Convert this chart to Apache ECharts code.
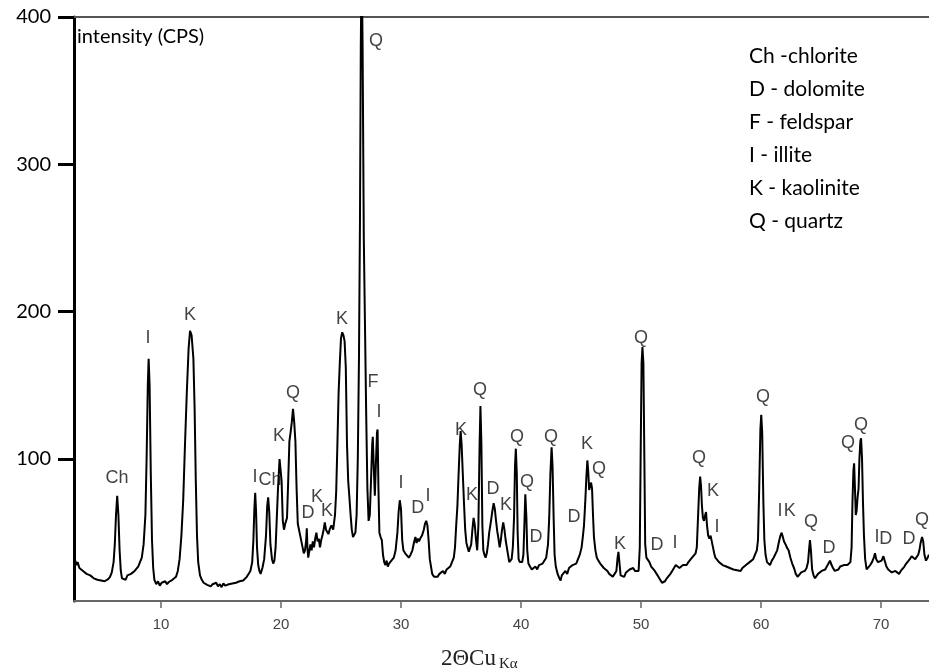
<!DOCTYPE html>
<html>
<head>
<meta charset="utf-8">
<title>XRD pattern</title>
<script src="https://cdn.jsdelivr.net/npm/echarts@6/dist/echarts.min.js"></script>
<style>
  html, body { margin: 0; padding: 0; background: #fff; }
  #chart { width: 929px; height: 669px; }
</style>
</head>
<body>
<div id="chart"></div>
<script>
// diffractogram: [2theta, counts]
const pattern = [
  [2.75,27],[2.85,31],[2.95,28],[3.05,30],[3.2,26],[3.35,27],[3.5,24],[3.65,25],[3.8,22],[3.95,23],
  [4.1,21],[4.25,22],[4.4,19],[4.55,20],[4.7,18],[4.85,19],[5.0,17.5],[5.15,18.5],[5.3,17],[5.45,18],
  [5.6,18.5],[5.75,20],[5.9,23],[6.05,30],[6.15,42],[6.25,62],[6.35,75],[6.45,62],[6.55,38],[6.65,24],
  [6.75,19],[6.9,20],[7.05,18],[7.2,21],[7.35,20],[7.5,22],[7.65,21],[7.8,24],[7.95,25],[8.1,27],
  [8.25,30],[8.4,33],[8.55,42],[8.7,62],[8.8,100],[8.9,150],[8.97,168],[9.05,150],[9.15,90],[9.25,45],
  [9.35,26],[9.45,18],[9.6,15],[9.75,17],[9.9,14],[10.05,16],[10.2,15],[10.35,17],[10.5,15],[10.65,16.5],
  [10.8,17],[10.95,18],[11.1,19],[11.25,20],[11.4,24],[11.55,32],[11.7,48],[11.85,72],[12.0,110],[12.15,145],
  [12.3,175],[12.42,187],[12.55,184],[12.7,168],[12.8,135],[12.9,85],[13.0,48],[13.1,30],[13.25,21],[13.4,18],
  [13.55,16],[13.7,17],[13.85,14.5],[14.0,15.5],[14.15,13.5],[14.3,15],[14.45,14],[14.6,16],[14.75,13.5],[14.9,15],
  [15.05,13],[15.2,15.5],[15.35,14],[15.5,13.5],[15.65,15],[15.8,14],[15.95,15.5],[16.1,14.5],[16.25,16],[16.4,15],
  [16.55,17],[16.7,16],[16.85,17.5],[17.0,18],[17.15,20],[17.3,21],[17.45,24],[17.6,30],[17.7,45],[17.78,66],
  [17.85,77],[17.92,65],[18.0,40],[18.1,28],[18.2,24],[18.3,22],[18.45,26],[18.6,32],[18.75,48],[18.85,68],
  [18.93,74],[19.02,64],[19.12,42],[19.25,32],[19.35,29],[19.45,31],[19.55,40],[19.65,60],[19.75,80],[19.88,100],
  [19.97,101],[20.05,85],[20.15,58],[20.25,52],[20.35,56],[20.5,60],[20.6,85],[20.7,112],[20.8,118],[20.9,125],
  [21.0,134],[21.1,125],[21.2,112],[21.3,80],[21.4,56],[21.5,52],[21.6,48],[21.7,47],[21.8,40],[21.9,36],
  [22.0,38],[22.1,45],[22.15,53],[22.2,40],[22.27,33],[22.35,37],[22.45,42],[22.55,38],[22.65,44],[22.75,40],
  [22.85,46],[22.95,50],[23.05,44],[23.15,46],[23.25,40],[23.35,45],[23.45,48],[23.55,52],[23.65,57],[23.75,52],
  [23.85,53],[23.95,49],[24.05,52],[24.2,55],[24.35,52],[24.5,62],[24.6,78],[24.7,110],[24.8,145],[24.9,165],
  [25.0,182],[25.1,186],[25.2,184],[25.3,180],[25.4,162],[25.5,110],[25.6,85],[25.7,74],[25.8,62],[25.9,52],
  [26.0,47],[26.1,46],[26.2,50],[26.3,62],[26.4,100],[26.5,170],[26.58,260],[26.65,380],[26.72,440],[26.8,380],
  [26.9,250],[27.0,190],[27.1,130],[27.2,80],[27.3,58],[27.4,62],[27.5,85],[27.6,110],[27.65,115],[27.75,90],
  [27.82,75],[27.9,95],[28.0,118],[28.05,120],[28.12,80],[28.2,50],[28.3,47],[28.4,45],[28.5,35],[28.6,30],
  [28.7,28],[28.8,31],[28.9,27],[29.0,29],[29.1,28],[29.2,31],[29.3,30],[29.4,33],[29.55,38],[29.7,50],
  [29.8,64],[29.9,72],[30.0,66],[30.1,45],[30.2,38],[30.35,36],[30.5,37],[30.65,33],[30.8,35],[30.95,38],
  [31.1,44],[31.2,47],[31.3,43],[31.4,46],[31.5,44],[31.6,46],[31.75,48],[31.9,52],[32.0,56],[32.1,58],
  [32.2,55],[32.3,45],[32.4,32],[32.5,27],[32.6,22],[32.75,20],[32.9,21],[33.05,20],[33.2,22],[33.35,21],
  [33.5,24],[33.65,22],[33.8,25],[33.95,24],[34.1,27],[34.25,28],[34.4,33],[34.5,40],[34.6,55],[34.7,68],
  [34.8,90],[34.9,110],[34.97,119],[35.05,110],[35.15,90],[35.25,70],[35.35,52],[35.45,43],[35.55,40],[35.65,37],
  [35.75,36],[35.85,42],[35.95,52],[36.05,60],[36.15,55],[36.25,45],[36.35,38],[36.45,55],[36.55,110],[36.62,136],
  [36.7,110],[36.78,55],[36.86,38],[36.95,35],[37.05,33],[37.15,36],[37.25,42],[37.35,50],[37.5,58],[37.6,64],
  [37.72,70],[37.82,66],[37.92,58],[38.02,51],[38.12,46],[38.22,40],[38.32,45],[38.42,52],[38.52,57],[38.62,52],
  [38.72,45],[38.82,40],[38.92,35],[39.02,30],[39.12,29],[39.22,32],[39.32,40],[39.42,60],[39.5,95],[39.57,107],
  [39.65,90],[39.72,50],[39.8,32],[39.9,30],[40.0,31],[40.1,30],[40.2,35],[40.28,55],[40.36,76],[40.45,60],
  [40.52,38],[40.62,29],[40.75,27],[40.9,25],[41.05,24],[41.2,27],[41.35,25],[41.5,28],[41.65,27],[41.8,29],
  [41.95,30],[42.1,33],[42.25,42],[42.35,60],[42.45,90],[42.55,108],[42.63,95],[42.72,60],[42.8,35],[42.9,27],
  [43.05,22],[43.2,19],[43.3,17.5],[43.4,21],[43.55,20],[43.7,24],[43.85,22],[44.0,26],[44.15,25],[44.3,28],
  [44.45,27],[44.6,29],[44.75,30],[44.9,35],[45.05,40],[45.15,47],[45.25,55],[45.35,70],[45.45,88],[45.53,99],
  [45.6,92],[45.68,79],[45.76,80],[45.84,84],[45.92,80],[46.0,62],[46.08,47],[46.2,38],[46.32,33],[46.45,31],
  [46.6,29],[46.75,28],[46.9,26],[47.05,25],[47.2,24],[47.35,22],[47.5,23],[47.65,20],[47.8,22],[47.95,24],
  [48.05,33],[48.12,37],[48.2,30],[48.3,21],[48.45,22],[48.6,20],[48.75,23],[48.9,22],[49.05,25],[49.2,24],
  [49.35,26],[49.5,24],[49.65,25],[49.8,24],[49.9,40],[49.98,110],[50.05,165],[50.12,176],[50.2,165],[50.28,100],
  [50.35,42],[50.45,33],[50.55,32],[50.7,30],[50.85,27],[51.0,28],[51.15,24],[51.3,22],[51.45,20],[51.6,18],
  [51.75,16],[51.85,15.5],[52.0,17],[52.15,19],[52.3,20],[52.45,22],[52.6,24],[52.75,26],[52.9,28],[53.05,27],
  [53.2,26],[53.35,25],[53.5,28],[53.65,27],[53.8,28],[53.95,30],[54.1,31],[54.25,33],[54.4,34],[54.55,36],
  [54.65,40],[54.75,60],[54.85,80],[54.93,88],[55.0,82],[55.08,68],[55.16,60],[55.25,58],[55.35,62],[55.42,64],
  [55.5,55],[55.6,48],[55.7,46],[55.8,48],[55.9,47],[56.0,40],[56.1,36],[56.2,33],[56.35,32],[56.5,30],
  [56.65,31],[56.8,28],[56.95,29],[57.1,27],[57.25,28],[57.4,26],[57.55,27],[57.7,25],[57.85,26],[58.0,24.5],
  [58.15,25],[58.3,24],[58.45,26],[58.6,27],[58.75,28],[58.9,29],[59.05,30],[59.2,31],[59.35,32],[59.5,35],
  [59.65,38],[59.75,45],[59.85,80],[59.95,120],[60.02,130],[60.1,118],[60.2,70],[60.28,45],[60.38,35],[60.5,30],
  [60.62,29],[60.75,28],[60.9,31],[61.05,33],[61.2,34],[61.35,38],[61.5,44],[61.62,48],[61.72,50],[61.82,47],
  [61.92,44],[62.05,42],[62.15,40],[62.3,38],[62.45,33],[62.6,29],[62.75,26],[62.9,22],[63.05,20],[63.2,21],
  [63.35,23],[63.5,22],[63.65,24],[63.8,26],[63.92,30],[64.0,38],[64.08,45],[64.16,38],[64.26,25],[64.38,21],
  [64.5,19],[64.62,20],[64.75,22],[64.9,21],[65.05,24],[65.2,23],[65.35,25],[65.5,26],[65.62,29],[65.75,31],
  [65.88,28],[66.0,26],[66.15,24],[66.3,23],[66.45,25],[66.6,27],[66.75,26],[66.9,28],[67.05,27],[67.2,28],
  [67.35,29],[67.45,30],[67.55,40],[67.62,70],[67.7,92],[67.76,97],[67.83,80],[67.9,62],[67.97,65],[68.05,74],
  [68.13,80],[68.2,100],[68.28,112],[68.34,114],[68.42,100],[68.5,70],[68.58,48],[68.68,32],[68.8,25],[68.95,26],
  [69.1,28],[69.25,30],[69.4,33],[69.5,36],[69.6,32],[69.75,30],[69.9,29],[70.05,31],[70.2,34],[70.3,33],
  [70.45,27],[70.6,25],[70.75,24],[70.9,23],[71.05,22],[71.2,24],[71.35,23],[71.5,22],[71.65,24],[71.8,25],
  [71.95,27],[72.1,29],[72.25,30],[72.4,32],[72.55,34],[72.7,33],[72.85,32],[73.0,33],[73.1,35],[73.2,38],
  [73.3,43],[73.42,47],[73.52,44],[73.62,35],[73.75,31],[73.88,33],[74.0,35]
];

// phase letters and where they sit above the peaks
const peakNames = ['Ch','I','K','I','Ch','K','Q','D','K','K','K','Q','F','I','I','D','I',
  'K','K','Q','D','K','Q','Q','D','Q','D','K','Q','K','Q','D','I','Q','K','I','Q',
  'I','K','Q','D','Q','Q','I','D','D','Q'];
const peakX = [6.33,8.92,12.42,17.83,19.08,19.83,21.0,22.25,23.0,23.83,25.08,27.92,27.67,28.17,30.0,31.4,32.25,
  35.0,35.92,36.58,37.67,38.75,39.67,40.5,41.25,42.5,44.42,45.5,46.5,48.25,50.0,51.33,52.83,54.83,56.0,56.33,60.17,
  61.58,62.4,64.17,65.67,67.25,68.33,69.67,70.4,72.33,73.42];
const peakY = [86.9,182,198,87.6,85.5,115.4,144.6,63,74,64.5,195,384,152,131.7,83.5,66.5,74.7,
  119.5,75.4,146.6,79.4,68.6,114.7,84.2,46.8,114.7,60.4,110,93,42.1,182,41.4,42.8,100.5,78,53.6,142,
  65,65,57,39.4,110.7,123,46.8,46,45.5,58.4];

const xTicks = [10, 20, 30, 40, 50, 60, 70];
const yTicks = [100, 200, 300, 400];

const legendLines = ['Ch -chlorite', 'D - dolomite', 'F - feldspar', 'I - illite', 'K - kaolinite', 'Q - quartz'];

const chart = echarts.init(document.getElementById('chart'));

const labelPoints = peakNames.map((n, i) => ({ name: n, value: [peakX[i], peakY[i]] }));

const option = {
  backgroundColor: '#fff',
  animation: false,
  grid: { left: 74, right: 0, top: 17, bottom: 68 },
  xAxis: [
    {
      type: 'value',
      min: 2.75,
      max: 74,
      axisLine: { show: true, onZero: false, lineStyle: { color: '#666', width: 2 } },
      axisTick: { show: true, customValues: xTicks, length: 7, lineStyle: { color: '#666', width: 1.5 } },
      axisLabel: {
        customValues: xTicks,
        color: '#444',
        fontFamily: 'Liberation Sans',
        fontSize: 15,
        margin: 16
      },
      splitLine: { show: false }
    },
    {
      type: 'value',
      position: 'top',
      min: 2.75,
      max: 74,
      axisLine: { show: true, lineStyle: { color: '#555', width: 2 } },
      axisTick: { show: false },
      axisLabel: { show: false },
      splitLine: { show: false }
    }
  ],
  yAxis: {
    type: 'value',
    min: 3.6,
    max: 400,
    axisLine: { show: true, onZero: false, lineStyle: { color: '#000', width: 3 } },
    axisTick: { show: true, customValues: yTicks, length: 16, lineStyle: { color: '#000', width: 3 } },
    axisLabel: {
      customValues: yTicks,
      color: '#000',
      fontFamily: 'Lato',
      fontSize: 20,
      margin: 23
    },
    splitLine: { show: false }
  },
  graphic: [
    {
      type: 'text',
      left: 77,
      top: 27,
      style: { text: 'intensity (CPS)', font: '20px Lato', fill: '#000' }
    },
    {
      type: 'text',
      left: 749,
      top: 40,
      style: {
        text: legendLines.join('\n'),
        font: '21px Lato',
        lineHeight: 33,
        fill: '#000'
      }
    },
    {
      type: 'text',
      left: 441,
      top: 647,
      style: { text: '2ΘCu', font: '23px "Liberation Serif"', fill: '#222' }
    },
    {
      type: 'text',
      left: 499,
      top: 657,
      style: { text: 'Kα', font: '15px "Liberation Serif"', fill: '#222' }
    }
  ],
  series: [
    {
      name: 'scan',
      type: 'line',
      data: pattern,
      showSymbol: false,
      clip: true,
      lineStyle: { color: '#000', width: 2 },
      silent: true
    },
    {
      name: 'phases',
      type: 'scatter',
      data: labelPoints,
      symbolSize: 1,
      itemStyle: { color: 'rgba(0,0,0,0)' },
      silent: true,
      label: {
        show: true,
        position: 'inside',
        formatter: '{b}',
        color: '#111',
        fontFamily: 'Liberation Sans',
        fontSize: 18
      }
    }
  ]
};

chart.setOption(option);
</script>
</body>
</html>
